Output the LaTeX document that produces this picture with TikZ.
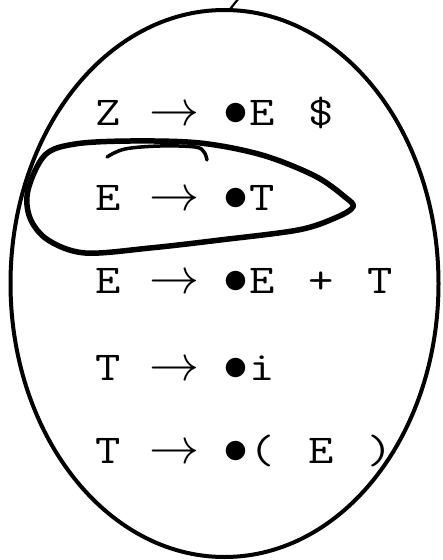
\documentclass[tikz,border=0pt]{standalone}
\usepackage{graphicx}
\usetikzlibrary{shapes.geometric}
\newcommand{\cellc}[1]{\makebox[29.5pt][c]{\scalebox{1.2}[1]{#1}}}
\newcommand{\arrcell}{\makebox[102pt][c]{\scalebox{5}{\fontsize{10}{12}\selectfont$\rightarrow$}}}
\newcommand{\dotcell}{\makebox[22pt][c]{\scalebox{5}{\fontsize{10}{12}\selectfont$\bullet$}}}
\begin{document}
\begin{tikzpicture}[x=1pt,y=-1pt,
  prod/.style={anchor=base west,inner sep=0pt,font=\fontsize{41}{41}\selectfont\ttfamily},
  itemset/.style={draw,ellipse,line width=4pt,inner sep=0pt,outer sep=0pt,minimum width=428pt,minimum height=547pt},
  tailline/.style={line width=2.2pt},
  loopline/.style={line width=5.5pt,line join=round,line cap=round},
  hookline/.style={line width=3.5pt,line cap=round}]
\useasboundingbox (0,0) rectangle (443,560);
\clip (0,0) rectangle (443,560);
\node[itemset] (ell) at (224.5,283.5) {};
\coordinate (tailend) at (247,-12);
\draw[tailline] (ell.89) -- (tailend);
\node[prod] (l1) at (93.5,125) {\cellc{Z}\arrcell\dotcell\cellc{E}\cellc{}\cellc{\$}};
\node[prod] (l2) at (93.5,210) {\cellc{E}\arrcell\dotcell\cellc{T}};
\node[prod] (l3) at (93.5,293) {\cellc{E}\arrcell\dotcell\cellc{E}\cellc{}\cellc{+}\cellc{}\cellc{T}};
\node[prod] (l4) at (93.5,380) {\cellc{T}\arrcell\dotcell\cellc{i}};
\node[prod] (l5) at (93.5,463) {\cellc{T}\arrcell\dotcell\cellc{(}\cellc{}\cellc{E}\cellc{}\cellc{)}};
\draw[loopline] plot[smooth cycle,tension=0.55] coordinates {
  (45,155) (75,144) (130,141) (200,143) (262,155) (315,176) (345,197) (353,207)
  (335,218) (298,230) (220,240) (150,248) (85,253) (48,240) (30,218) (28,190)};
\draw[hookline] plot[smooth,tension=0.6] coordinates {
  (107,157) (125,149) (160,146) (195,147) (204,152) (207,160)};
\end{tikzpicture}
\end{document}
